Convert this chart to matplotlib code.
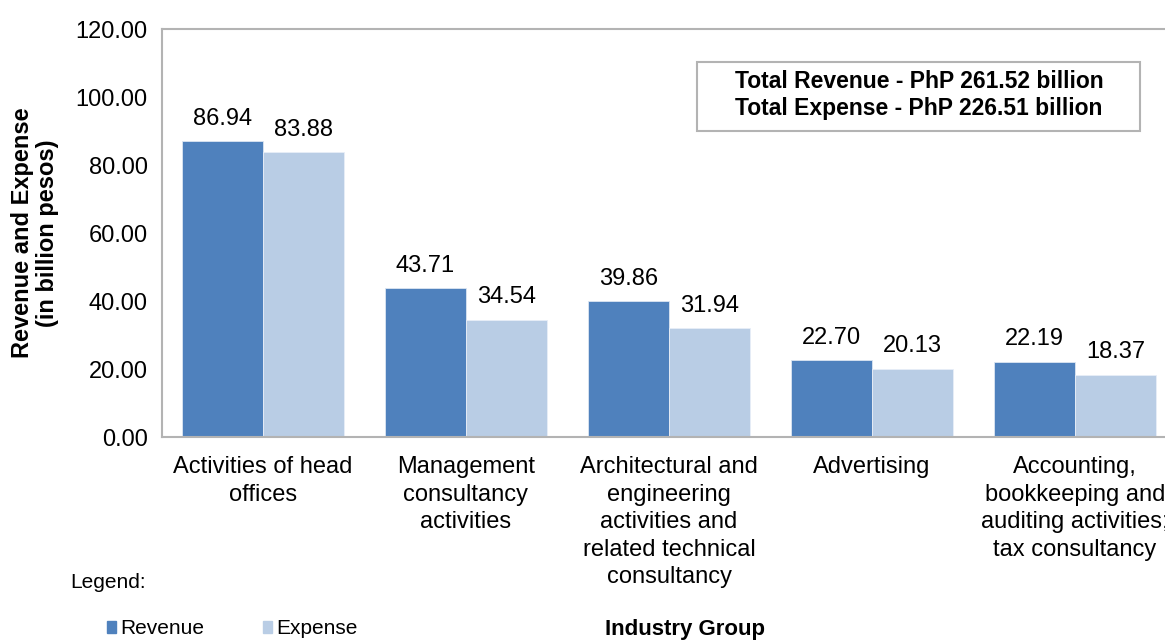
import numpy as np
import matplotlib
matplotlib.use('Agg')
from matplotlib import pyplot as plt
from matplotlib.patches import Patch, Rectangle

plt.rcParams['font.family'] = ['Liberation Sans', 'DejaVu Sans']

# data
industries = ['Activities of head\noffices',
              'Management\nconsultancy\nactivities',
              'Architectural and\nengineering\nactivities and\nrelated technical\nconsultancy',
              'Advertising',
              'Accounting,\nbookkeeping and\nauditing activities;\ntax consultancy']
revenue = [86.94, 43.71, 39.86, 22.70, 22.19]
expense = [83.88, 34.54, 31.94, 20.13, 18.37]
yticks = [0, 20, 40, 60, 80, 100, 120]

rev_col = '#4F81BD'
exp_col = '#B9CDE5'
grey = '#B3B3B3'

fig = plt.figure(figsize=(11.65, 6.41), dpi=100)
ax = fig.add_axes([161.5/1165, 1 - 437/641, 1015/1165, 408/641])

x = np.arange(len(industries))
w = 0.4
b1 = ax.bar(x - w/2, revenue, w, color=rev_col, edgecolor='#DCE6F2', linewidth=0.6)
b2 = ax.bar(x + w/2, expense, w, color=exp_col, edgecolor='#E8EEF7', linewidth=0.6)

for bars, vals in ((b1, revenue), (b2, expense)):
    for r, v in zip(bars, vals):
        ax.annotate('%.2f' % v, (r.get_x() + r.get_width()/2, v),
                    xytext=(0, 8), textcoords='offset points',
                    ha='center', va='bottom', fontsize=17)

ax.set_xlim(-0.5, 4.5)
ax.set_ylim(0, 120)
ax.set_yticks(yticks)
ax.set_yticklabels(['%.2f' % t for t in yticks], fontsize=17)
ax.set_xticks(x)
ax.set_xticklabels(industries, fontsize=17, linespacing=1.32, va='top')
ax.tick_params(length=0, pad=10)
ax.tick_params(axis='x', pad=14)
for s in ax.spines.values():
    s.set_color(grey)
    s.set_linewidth(1.5)

ax.set_ylabel('Revenue and Expense\n(in billion pesos)', fontsize=17, fontweight='bold',
              linespacing=1.1, labelpad=12)

# totals box
fig.patches.append(Rectangle((697/1165, 1 - 131/641), 443/1165, 69/641,
                             transform=fig.transFigure, facecolor='white',
                             edgecolor=grey, linewidth=1.5, zorder=3))
fig.text(919/1165, 1 - 95/641,
         'Total Revenue - PhP 261.52 billion\nTotal Expense - PhP 226.51 billion',
         ha='center', va='center', fontsize=16.5, fontweight='bold',
         linespacing=1.25, zorder=4)

fig.text(70/1165, 1 - 582/641, 'Legend:', fontsize=15, va='center', ha='left')
handles = [Patch(color=rev_col, label='Revenue'), Patch(color=exp_col, label='Expense')]
fig.legend(handles=handles, loc='center left', bbox_to_anchor=(88/1165, 1 - 629/641),
           ncol=2, frameon=False, fontsize=15, handlelength=0.45, handleheight=0.45,
           handletextpad=0.2, columnspacing=2.8)

fig.text(685/1165, 1 - 630/641, 'Industry Group', fontsize=16, fontweight='bold',
         ha='center', va='center')

plt.savefig('out.png', dpi=100)
